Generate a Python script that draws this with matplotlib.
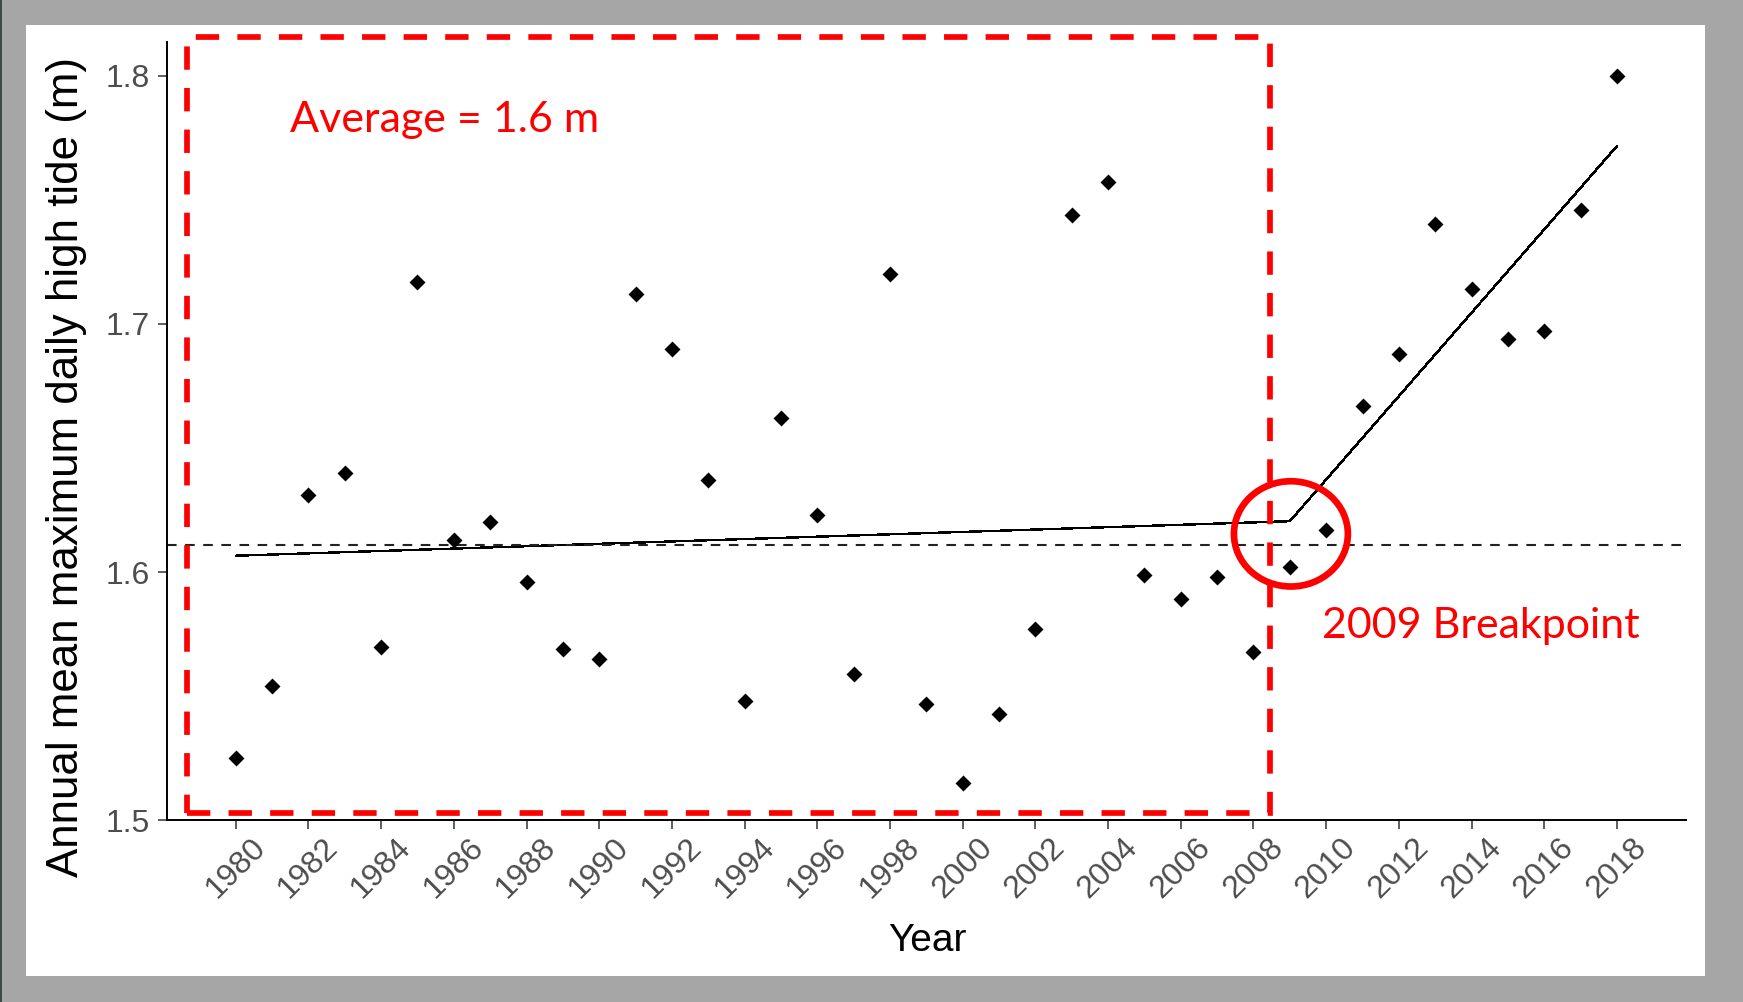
"""Annual mean maximum daily high tide with a segmented (breakpoint) fit."""

import matplotlib.pyplot as plt
from matplotlib.patches import Ellipse, Rectangle
from matplotlib.ticker import FormatStrFormatter

OUT = "out.png"

YEARS = list(range(1980, 2019))
HIGH_TIDE = [
    1.525, 1.554, 1.631, 1.640, 1.570, 1.717, 1.613, 1.620, 1.596, 1.569,
    1.565, 1.712, 1.690, 1.637, 1.548, 1.662, 1.623, 1.559, 1.720, 1.547,
    1.515, 1.543, 1.577, 1.744, 1.757, 1.599, 1.589, 1.598, 1.568, 1.602,
    1.617, 1.667, 1.688, 1.740, 1.714, 1.694, 1.697, 1.746, 1.800,
]

# segmented regression: start, breakpoint, end
FIT_YEARS = [1980, 2009, 2018]
FIT_VALUES = [1.6066, 1.6205, 1.7716]
BREAK_YEAR = 2009

AVERAGE_TIDE = 1.611

XTICKS = list(range(1980, 2019, 2))
YTICKS = [1.5, 1.6, 1.7, 1.8]

W, H = 1743, 1002


def px(x0, y0, x1, y1):
    """Figure-fraction box from pixel corners (top-left origin)."""
    return [x0 / W, (H - y1) / H, (x1 - x0) / W, (y1 - y0) / H]


def main():
    fig = plt.figure(figsize=(W / 100, H / 100), dpi=100, facecolor="#a6a6a6")

    # white slide panel + thin dark edge on the left
    l, b, w, h = px(26, 24.5, 1705, 976)
    fig.add_artist(Rectangle((l, b), w, h, transform=fig.transFigure,
                             facecolor="white", edgecolor="none", zorder=-2))
    fig.add_artist(Rectangle((0, 0), 1.5 / W, 1, transform=fig.transFigure,
                             facecolor="#3d4948", edgecolor="none", zorder=-2))

    ax = fig.add_axes(px(166.7, 42, 1686, 820.4))
    ax.set_facecolor("none")

    ax.plot(YEARS, HIGH_TIDE, linestyle="none", marker="D", ms=8.6,
            mec="none", color="black", zorder=3)
    ax.plot(FIT_YEARS, FIT_VALUES, color="black", lw=1.0,
            antialiased=False, zorder=2)
    ax.axhline(AVERAGE_TIDE, color="#222222", lw=1.5,
               linestyle=(0, (4.6, 4.1)), zorder=2)

    ax.set_xlim(1978.1, 2019.9)
    ax.set_ylim(1.5, 1.8135)
    ax.set_xticks(XTICKS)
    ax.set_yticks(YTICKS)
    ax.yaxis.set_major_formatter(FormatStrFormatter("%.1f"))

    for side in ("top", "right"):
        ax.spines[side].set_visible(False)
    for side in ("left", "bottom"):
        ax.spines[side].set_linewidth(1.4)
        ax.spines[side].set_color("black")

    ax.tick_params(axis="both", length=6.5, width=1.1, color="#333333",
                   labelcolor="#4d4d4d", labelsize=23,
                   labelfontfamily="Liberation Sans")
    ax.tick_params(axis="y", pad=5.5)
    ax.tick_params(axis="x", pad=2.0)
    for lab in ax.get_xticklabels():
        lab.set_rotation(45)
        lab.set_ha("center")
        lab.set_va("top")

    fig.text(927.5 / W, 1 - 941 / H, "Year", ha="center", va="center",
             fontsize=28, family="Liberation Sans", color="black")
    fig.text(67 / W, 1 - 467 / H, "Annual mean maximum daily high tide (m)",
             ha="center", va="center", rotation=90, fontsize=31.6,
             family="Liberation Sans", color="black")

    # highlighted pre-breakpoint period
    box = Rectangle((1978.65, 1.5031), 2008.46 - 1978.65, 1.8157 - 1.5031,
                    fill=False, edgecolor="#ff0000", lw=4.1,
                    linestyle=(0, (4.1, 3.2)), clip_on=False, zorder=4)
    ax.add_patch(box)
    ring = Ellipse((BREAK_YEAR + 0.03, 1.6154), 3.135, 0.0424, fill=False,
                   edgecolor="#ff0000", lw=4.8, clip_on=False, zorder=4)
    ax.add_patch(ring)

    ax.text(1981.49, 1.7774, f"Average = {AVERAGE_TIDE:.1f} m", color="#ff0000",
            fontsize=31, family="Lato", ha="left", va="baseline")
    ax.text(2009.89, 1.5733, f"{BREAK_YEAR} Breakpoint", color="#ff0000",
            fontsize=31, family="Lato", ha="left", va="baseline")

    fig.savefig(OUT, dpi=100, facecolor=fig.get_facecolor())


if __name__ == "__main__":
    main()
